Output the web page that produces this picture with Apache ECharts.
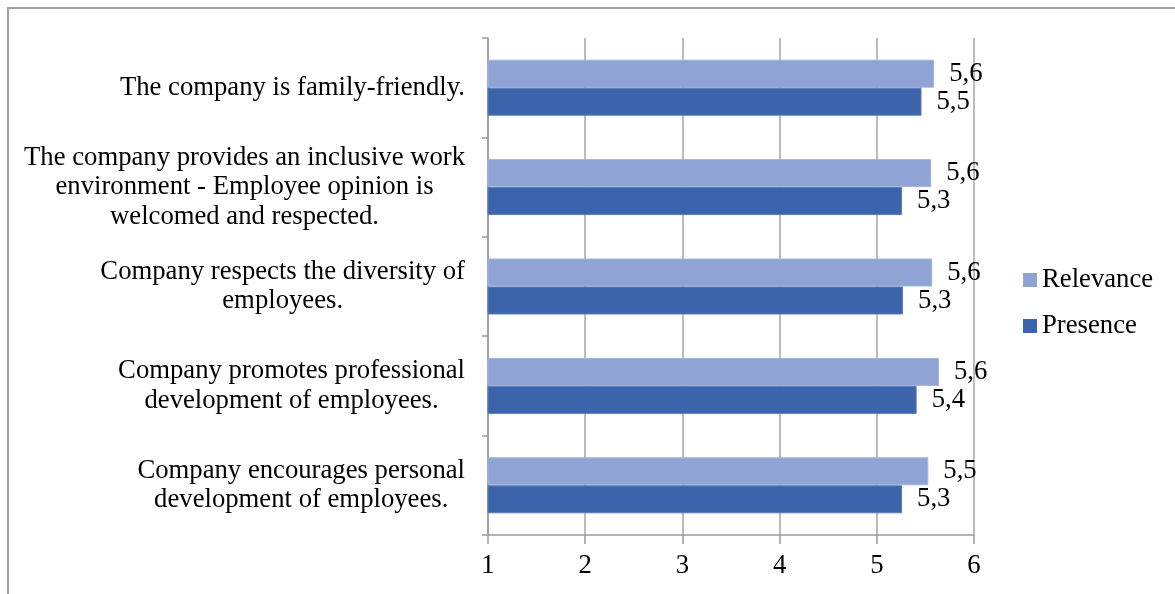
<!DOCTYPE html>
<html>
<head>
<meta charset="utf-8">
<script src="https://cdn.jsdelivr.net/npm/echarts@6/dist/echarts.min.js"></script>
<style>
html,body{margin:0;padding:0;background:#fff;}
#chart{width:1175px;height:594px;}
</style>
</head>
<body>
<div id="chart"></div>
<script>
const categories = [
  "The company is family-friendly.",
  "The company provides an inclusive work\nenvironment - Employee opinion is\nwelcomed and respected.",
  "Company respects the diversity of\nemployees.",
  "Company promotes professional\ndevelopment of employees.",
  "Company encourages personal\ndevelopment of employees."
];
const relevance = [5.59, 5.56, 5.57, 5.64, 5.53];
const presence = [5.46, 5.26, 5.27, 5.41, 5.26];
const seriesNames = ["Relevance", "Presence"];
const xTicks = [1, 2, 3, 4, 5, 6];

const FONT = "'Liberation Serif', 'Times New Roman', serif";
const FS = 26.7;
const chart = echarts.init(document.getElementById('chart'), null, {renderer: 'canvas'});

const labelCfg = {
  show: true,
  position: 'right',
  distance: 15,
  fontFamily: FONT,
  fontSize: FS,
  color: '#000',
  formatter: p => p.value.toFixed(1).replace('.', ',')
};

chart.setOption({
  animation: false,
  backgroundColor: '#fff',
  graphic: [{
    type: 'rect',
    shape: {x: 8, y: 8, width: 1200, height: 620},
    style: {fill: 'none', stroke: '#a0a0a0', lineWidth: 2},
    silent: true
  }],
  grid: {left: 488, right: 201, top: 38, bottom: 59, containLabel: false},
  legend: {
    orient: 'vertical',
    left: 1018,
    top: 260,
    itemWidth: 14,
    itemHeight: 14,
    itemGap: 16,
    icon: 'rect',
    data: seriesNames,
    itemStyle: {borderWidth: 0},
    textStyle: {fontFamily: FONT, fontSize: FS, color: '#000', lineHeight: 30}
  },
  xAxis: {
    type: 'value',
    min: xTicks[0],
    max: xTicks[xTicks.length - 1],
    interval: 1,
    axisLine: {show: true, lineStyle: {color: '#9a9a9a', width: 1.5}},
    axisTick: {show: true, length: 9, lineStyle: {color: '#9a9a9a', width: 1.5}},
    splitLine: {show: true, lineStyle: {color: '#a6a6a6', width: 1.5}},
    axisLabel: {fontFamily: FONT, fontSize: FS, color: '#000', margin: 17}
  },
  yAxis: {
    type: 'category',
    inverse: true,
    data: categories,
    axisLine: {show: true, lineStyle: {color: '#9a9a9a', width: 1.5}},
    axisTick: {show: true, length: 6, lineStyle: {color: '#9a9a9a', width: 1.5}},
    axisLabel: {
      margin: 23,
      fontFamily: FONT,
      fontSize: FS,
      color: '#000',
      lineHeight: 29.5,
      formatter: v => v.split('\n').map(l => '{c|' + l + '}').join('\n'),
      rich: {c: {align: 'center', fontFamily: FONT, fontSize: FS, color: '#000', lineHeight: 29.5}}
    }
  },
  series: [
    {
      name: seriesNames[0],
      type: 'bar',
      data: relevance,
      barWidth: 28,
      barGap: '0%',
      itemStyle: {color: '#8fa4d4', borderColor: '#a3b4de', borderWidth: 1},
      label: labelCfg
    },
    {
      name: seriesNames[1],
      type: 'bar',
      data: presence,
      barWidth: 28,
      barGap: '0%',
      itemStyle: {color: '#3c64ab', borderColor: '#5a7cbb', borderWidth: 1},
      label: labelCfg
    }
  ]
});
</script>
</body>
</html>
